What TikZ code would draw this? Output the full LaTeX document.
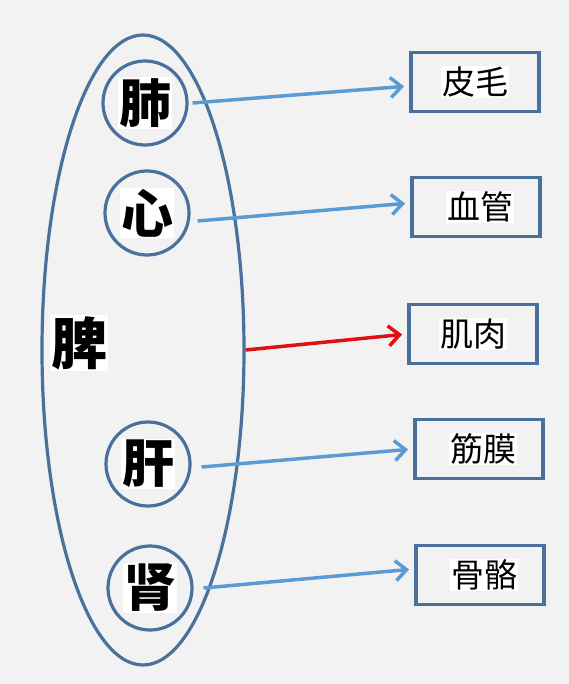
\documentclass[tikz,border=0pt]{standalone}
\usepackage{fontspec}
\newfontfamily\cjk{Noto Sans CJK SC}
\usetikzlibrary{shapes.geometric, arrows.meta, calc}
\definecolor{bggray}{RGB}{242,242,242}
\definecolor{edgeblue}{RGB}{74,112,156}
\definecolor{arrowblue}{RGB}{91,155,213}
\definecolor{arrowred}{RGB}{224,16,16}
\newcommand{\hl}[1]{{\setlength{\fboxsep}{1pt}\colorbox{white}{#1}}}
\tikzstyle{organ} = [circle, draw=edgeblue, line width=3.2pt, minimum size=84pt, inner sep=0pt, font=\cjk\bfseries\fontsize{52}{52}\selectfont]
\tikzstyle{tissue} = [rectangle, draw=edgeblue, line width=3.8pt, minimum width=128pt, minimum height=59pt, inner sep=0pt, font=\cjk\fontsize{33}{33}\selectfont]
\tikzstyle{arrow} = [line width=3.5pt, arrowblue, -{Straight Barb[length=11pt, width=20pt, line width=3.5pt]}, shorten >=5pt]
\tikzstyle{redarrow} = [arrow, arrowred]

\begin{document}
\begin{tikzpicture}[x=1pt, y=-1pt]
        \fill[bggray] (0,0) rectangle (569,684);

        \node at (143,350) [ellipse, draw=edgeblue, line width=3.2pt, minimum width=202pt, minimum height=630pt](pi) {};
        \node at (79,343) [font=\cjk\bfseries\fontsize{56}{56}\selectfont](pitext) {\hl{脾}};

        \node at (145,103) [organ](fei) {\hl{肺}};
        \node at (147,213) [organ](xin) {\hl{心}};
        \node at (148,464) [organ](gan) {\hl{肝}};
        \node at (150,588) [organ](shen) {\hl{肾}};

        \node at (475,82) [tissue](pimao) {\hl{皮毛}};
        \node at (476,207) [tissue](xueguan) {\hspace{8pt}\hl{血管}};
        \node at (473,334) [tissue](jirou) {\hl{肌肉}};
        \node at (479,449) [tissue](jinmo) {\hspace{8pt}\hl{筋膜}};
        \node at (480,575) [tissue](guge) {\hspace{8pt}\hl{骨骼}};

        \draw[arrow] ([xshift=4pt]fei.east) -- ([yshift=-4pt]pimao.west);
        \draw[arrow] ([xshift=7pt,yshift=-8pt]xin.east) -- ([yshift=4pt]xueguan.west);
        \draw[redarrow] (pi.east) -- (jirou.west);
        \draw[arrow] ([xshift=10pt,yshift=-3pt]gan.east) -- (jinmo.west);
        \draw[arrow] ([xshift=10pt]shen.east) -- ([yshift=6pt]guge.west);

    \end{tikzpicture}
\end{document}
